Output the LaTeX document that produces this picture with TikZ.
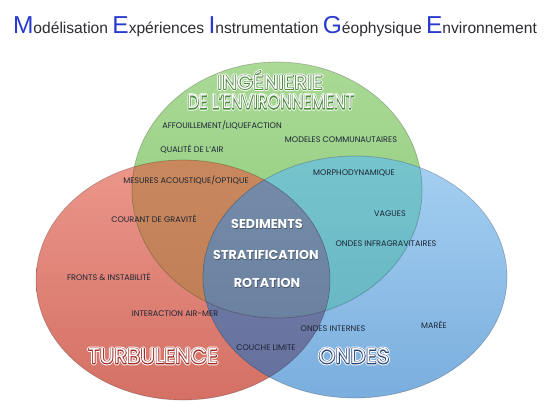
\documentclass[tikz,border=0pt]{standalone}
\usepackage{fontspec}
\setmainfont{Liberation Sans}
\newfontfamily\pop{Poppins}
\usetikzlibrary{calc}
\definecolor{rT}{RGB}{236,150,138}
\definecolor{rB}{RGB}{212,112,100}
\definecolor{gT}{RGB}{170,218,150}
\definecolor{gB}{RGB}{140,200,120}
\definecolor{bT}{RGB}{166,208,242}
\definecolor{bB}{RGB}{122,174,222}
\definecolor{rgT}{RGB}{206,142,98}
\definecolor{rgB}{RGB}{192,126,84}
\definecolor{gbT}{RGB}{118,196,204}
\definecolor{gbB}{RGB}{96,178,194}
\definecolor{rbT}{RGB}{114,128,170}
\definecolor{rbB}{RGB}{102,112,156}
\definecolor{cT}{RGB}{116,140,170}
\definecolor{cB}{RGB}{104,124,156}
\definecolor{titleblue}{RGB}{40,58,208}
\definecolor{titlegray}{RGB}{45,45,50}
\definecolor{labtxt}{RGB}{28,36,54}
\tikzset{
  ell red/.style={insert path={(183,280) ellipse [x radius=147pt, y radius=120pt]}},
  ell green/.style={insert path={(277,190) ellipse [x radius=145pt, y radius=128pt]}},
  ell blue/.style={insert path={(355,277) ellipse [x radius=152pt, y radius=121pt]}},
  rim/.style={draw=black, draw opacity=0.22, line width=0.7pt},
  lab/.style={font=\pop\fontsize{8.1}{9}\selectfont, text=labtxt, inner sep=0pt},
  bigtxt/.style={font=\pop\fontsize{21.5}{22}\selectfont, inner sep=0pt},
  ctr/.style={font=\pop\bfseries\fontsize{12.8}{14}\selectfont, inner sep=0pt},
}
% stroked text: #1 line width, #2 stroke rgb (0-1), #3 fill colour, #4 text
\newcommand\stroked[4]{{\color{#3}\special{pdf:literal #2 RG #1 w 1 j 2 Tr}#4\special{pdf:literal 0 Tr}}}
\newcommand\outlined[5]{%
  \node[bigtxt] at (#2) {\stroked{3.6}{1 1 1}{white}{#3}};
  \node[bigtxt] at (#2) {\stroked{1.6}{#4}{#5}{#3}};
  \node[bigtxt, text=white!96!gray] (#1) at (#2) {#3};
}
\newcommand\centerlab[3]{%
  \node[ctr, text=black, opacity=0.35] at ($(#2)+(0.6,0.7)$) {#3};
  \node[ctr, text=white] (#1) at (#2) {#3};
}
\newcommand\Cap[1]{{\fontsize{24.5}{26}\selectfont\textcolor{titleblue}{#1}}}
\definecolor{dkg}{rgb}{0.30,0.55,0.24}
\definecolor{dkr}{rgb}{0.64,0.16,0.14}
\definecolor{dkb}{rgb}{0.15,0.27,0.48}
\begin{document}
\begin{tikzpicture}[x=1pt,y=-1pt]
\useasboundingbox (0,0) rectangle (550,413);
\fill[white] (0,0) rectangle (550,413);
% base ellipses
\shade[top color=rT, bottom color=rB, ell red];
\shade[top color=gT, bottom color=gB, ell green];
\shade[top color=bT, bottom color=bB, ell blue];
% overlaps
\begin{scope}\clip[ell red]; \shade[top color=rgT, bottom color=rgB, ell green];\end{scope}
\begin{scope}\clip[ell green]; \shade[top color=gbT, bottom color=gbB, ell blue];\end{scope}
\begin{scope}\clip[ell red]; \shade[top color=rbT, bottom color=rbB, ell blue];\end{scope}
\begin{scope}\clip[ell red]; \clip[ell green]; \shade[top color=cT, bottom color=cB, ell blue];\end{scope}
% rims
\path[rim, ell red];
\path[rim, ell green];
\path[rim, ell blue];
% title
\node[anchor=base, inner sep=0pt, text=titlegray, font=\fontsize{15.6}{17}\selectfont] (title) at (275,33)
  {\Cap{M}odélisation \Cap{E}xpériences \Cap{I}nstrumentation \Cap{G}éophysique \Cap{E}nvironnement};
% big outlined labels
\coordinate (pIng) at (270,80);
\coordinate (pEnv) at (271,102);
\coordinate (pTurb) at (153,356);
\coordinate (pOnd) at (354,356);
\outlined{ing}{pIng}{\scalebox{0.97}[0.93]{INGÉNIERIE}}{0.30 0.55 0.24}{dkg}
\outlined{env}{pEnv}{\scalebox{0.76}[0.93]{DE L’ENVIRONNEMENT}}{0.30 0.55 0.24}{dkg}
\outlined{turb}{pTurb}{TURBULENCE}{0.64 0.16 0.14}{dkr}
\outlined{ond}{pOnd}{ONDES}{0.15 0.27 0.48}{dkb}
% center labels
\coordinate (pSed) at (267,224);
\coordinate (pStr) at (266,255);
\coordinate (pRot) at (267,283);
\centerlab{sed}{pSed}{SEDIMENTS}
\centerlab{str}{pStr}{STRATIFICATION}
\centerlab{rot}{pRot}{ROTATION}
% small labels
\node[lab] (aff) at (222,125) {AFFOUILLEMENT/LIQUEFACTION};
\node[lab] (mod) at (341,140) {MODELES COMMUNAUTAIRES};
\node[lab] (qua) at (192,149) {QUALITÉ DE L’AIR};
\node[lab] (mes) at (186,180) {MESURES ACOUSTIQUE/OPTIQUE};
\node[lab] (mor) at (354,173) {MORPHODYNAMIQUE};
\node[lab] (cou) at (154,219) {COURANT DE GRAVITÉ};
\node[lab] (vag) at (390,214) {VAGUES};
\node[lab] (inf) at (386,244) {ONDES INFRAGRAVITAIRES};
\node[lab] (fro) at (109,277) {FRONTS \& INSTABILITÉ};
\node[lab] (int) at (175,314) {INTERACTION AIR-MER};
\node[lab] (oin) at (333,329) {ONDES INTERNES};
\node[lab] (mar) at (434,325) {MARÉE};
\node[lab] (cl) at (266,348) {COUCHE LIMITE};
\end{tikzpicture}
\end{document}
